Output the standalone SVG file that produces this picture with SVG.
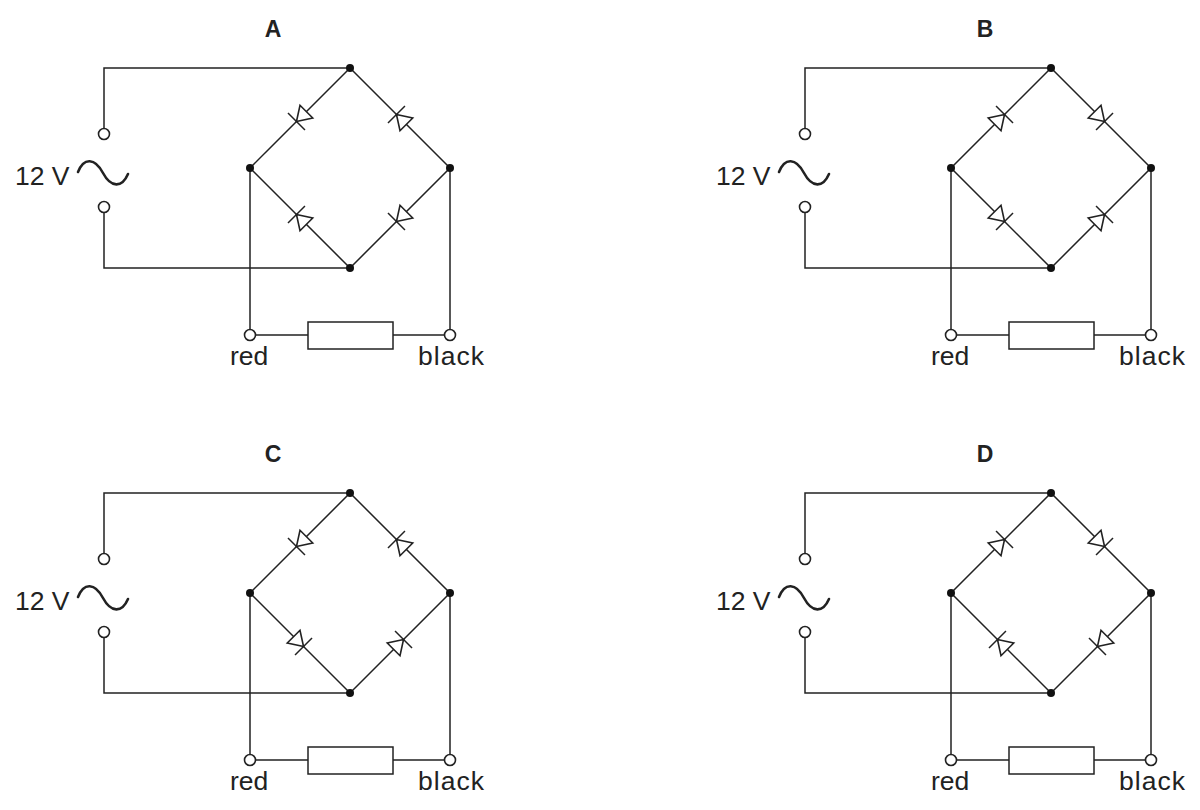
<svg xmlns="http://www.w3.org/2000/svg" xmlns:xlink="http://www.w3.org/1999/xlink" width="1200" height="810" viewBox="0 0 1200 810">
<style>
.w{fill:none;stroke:#222;stroke-width:1.5}
.t{fill:#fff;stroke:#222;stroke-width:1.6}
.n{fill:#111}
.ac{fill:none;stroke:#222;stroke-width:2.6;stroke-linecap:round}
.lb{font-family:"Liberation Sans",Arial,sans-serif;font-size:26.5px;fill:#222}
.ti{font-family:"Liberation Sans",Arial,sans-serif;font-size:23px;font-weight:bold;fill:#222}
</style>
<defs>
<g id="diode">
<path class="w" d="M5,-12 L5,12"/>
<path class="t" d="M5,0 L-9,-9 L-9,9 Z"/>
</g>
<g id="frame">
<g id="wires">
<path class="w" d="M104,128 V68 H350 L450,168 L350,268 L250,168 L350,68 M104,213 V268 H350 M250,168 V330 M450,168 V330 M255,335 H308 M393,335 H445"/>
<rect class="w" x="308" y="322" width="85" height="27"/>
<path class="ac" d="M78,172 C84,157 95,158 103,173 C111,188 122,188 128,174"/>
</g>
<circle class="t" cx="104" cy="134" r="5.5"/>
<circle class="t" cx="104" cy="207" r="5.5"/>
<circle class="t" cx="250" cy="335" r="5.5"/>
<circle class="t" cx="450" cy="335" r="5.5"/>
<circle class="n" cx="350" cy="68" r="4"/>
<circle class="n" cx="250" cy="168" r="4"/>
<circle class="n" cx="450" cy="168" r="4"/>
<circle class="n" cx="350" cy="268" r="4"/>
<text class="lb" x="15" y="185">12 V</text>
<text class="lb" x="230" y="365">red</text>
<text class="lb" x="418" y="365" textLength="66">black</text>
</g>
</defs>

<g id="circuitA">
<use xlink:href="#frame"/>
<text class="ti" x="273" y="37" text-anchor="middle">A</text>
<use xlink:href="#diode" transform="translate(300,118) rotate(135)"/>
<use xlink:href="#diode" transform="translate(400,118) rotate(225)"/>
<use xlink:href="#diode" transform="translate(300,218) rotate(225)"/>
<use xlink:href="#diode" transform="translate(400,218) rotate(135)"/>
</g>

<g id="circuitB" transform="translate(701,0)">
<use xlink:href="#frame"/>
<text class="ti" x="284" y="37" text-anchor="middle">B</text>
<use xlink:href="#diode" transform="translate(300,118) rotate(-45)"/>
<use xlink:href="#diode" transform="translate(400,118) rotate(45)"/>
<use xlink:href="#diode" transform="translate(300,218) rotate(45)"/>
<use xlink:href="#diode" transform="translate(400,218) rotate(-45)"/>
</g>

<g id="circuitC" transform="translate(0,425)">
<use xlink:href="#frame"/>
<text class="ti" x="273" y="37" text-anchor="middle">C</text>
<use xlink:href="#diode" transform="translate(300,118) rotate(135)"/>
<use xlink:href="#diode" transform="translate(400,118) rotate(225)"/>
<use xlink:href="#diode" transform="translate(300,218) rotate(45)"/>
<use xlink:href="#diode" transform="translate(400,218) rotate(-45)"/>
</g>

<g id="circuitD" transform="translate(701,425)">
<use xlink:href="#frame"/>
<text class="ti" x="284" y="37" text-anchor="middle">D</text>
<use xlink:href="#diode" transform="translate(300,118) rotate(-45)"/>
<use xlink:href="#diode" transform="translate(400,118) rotate(45)"/>
<use xlink:href="#diode" transform="translate(300,218) rotate(225)"/>
<use xlink:href="#diode" transform="translate(400,218) rotate(135)"/>
</g>
</svg>
